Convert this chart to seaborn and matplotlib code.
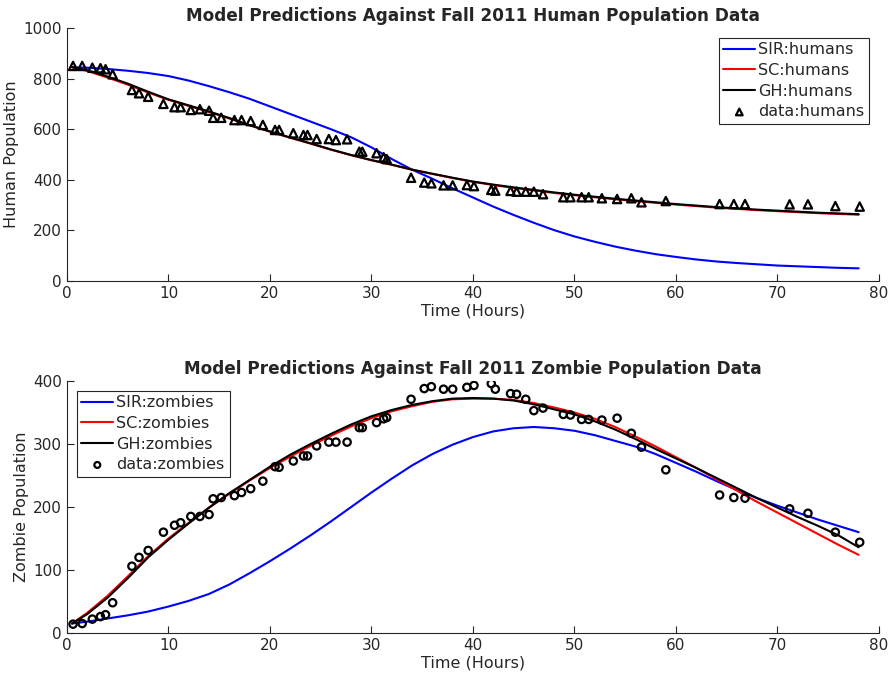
import matplotlib
matplotlib.use("Agg")
import matplotlib.pyplot as plt
import seaborn as sns

# observed time points (hours), shared by both data sets
t_data = [0.6, 1.5, 2.5, 3.3, 3.8, 4.5, 6.4, 7.1, 8.0, 9.5, 10.6, 11.2, 12.2, 13.1,
          14.0, 14.4, 15.2, 16.5, 17.2, 18.1, 19.3, 20.5, 20.9, 22.3, 23.3, 23.7,
          24.6, 25.8, 26.5, 27.6, 28.8, 29.1, 30.5, 31.2, 31.5, 33.9, 35.2, 35.9,
          37.1, 38.0, 39.4, 40.1, 41.8, 42.2, 43.7, 44.3, 45.2, 46.0, 46.9, 48.9,
          49.6, 50.7, 51.4, 52.7, 54.2, 55.6, 56.6, 59.0, 64.3, 65.7, 66.8, 71.2,
          73.0, 75.7, 78.1]

humans_data = [850, 850, 843, 841, 837, 817, 755, 742, 728, 700, 687, 687, 676, 679,
               673, 645, 645, 636, 636, 632, 617, 597, 597, 584, 577, 577, 561, 561,
               557, 560, 511, 511, 505, 489, 482, 408, 389, 386, 378, 378, 379, 375,
               360, 357, 356, 353, 353, 353, 343, 331, 331, 331, 331, 327, 324, 327,
               311, 316, 304, 304, 304, 303, 303, 296, 294]

zombies_data = [14, 15, 22, 26, 29, 48, 106, 120, 131, 160, 171, 175, 185, 185,
                188, 213, 215, 218, 223, 229, 241, 264, 263, 273, 281, 281, 297, 303,
                303, 303, 326, 326, 334, 340, 342, 371, 388, 391, 387, 387, 390, 393,
                396, 387, 380, 379, 371, 353, 357, 347, 346, 339, 339, 338, 341, 317,
                295, 259, 219, 215, 214, 197, 190, 160, 144]

# model curves
t_model = [0.5, 2, 4, 6, 8, 10, 12, 14, 16, 18, 20, 22, 24, 26, 28, 30, 32, 34, 36, 38,
           40, 42, 44, 46, 48, 50, 52, 54, 56, 58, 60, 62, 64, 66, 68, 70, 72, 74, 76, 78]

sir_humans = [845, 843, 838, 831, 822, 810, 792, 770, 746, 720, 690, 660, 630, 600,
              568, 528, 482, 440, 404, 366, 330, 294, 261, 230, 201, 176, 155, 136,
              120, 106, 95, 85, 77, 71, 66, 61, 58, 55, 52, 50]
sc_humans = [845, 830, 804, 776, 745, 716, 692, 668, 642, 615, 590, 566, 543, 519,
             497, 477, 459, 440, 423, 407, 392, 379, 368, 358, 348, 339, 331, 323,
             316, 309, 302, 296, 290, 285, 280, 276, 272, 268, 265, 262]
gh_humans = [845, 833, 808, 780, 748, 718, 694, 670, 644, 616, 591, 567, 544, 520,
             498, 478, 460, 440, 424, 408, 393, 381, 370, 360, 350, 341, 333, 325,
             318, 311, 304, 298, 292, 287, 282, 278, 274, 270, 267, 264]

sir_zombies = [15, 18, 23, 28, 34, 42, 51, 62, 77, 95, 114, 134, 155, 177, 200, 223,
               245, 266, 284, 299, 311, 320, 325, 327, 325, 321, 314, 305, 296, 284,
               270, 256, 241, 227, 214, 202, 191, 180, 170, 160]
sc_zombies = [15, 32, 59, 90, 122, 150, 175, 199, 221, 242, 262, 280, 297, 313, 328,
              341, 352, 360, 367, 371, 372, 372, 370, 365, 358, 350, 340, 327, 312,
              296, 279, 262, 244, 226, 208, 191, 174, 157, 140, 124]
gh_zombies = [15, 30, 56, 87, 120, 148, 174, 199, 222, 243, 264, 283, 300, 316, 331,
              344, 354, 362, 368, 372, 373, 372, 369, 363, 355, 347, 336, 323, 308,
              292, 277, 262, 246, 230, 214, 199, 184, 170, 155, 136]

sns.set_style("white")
plt.rcParams["font.family"] = ["DejaVu Sans"]
plt.rcParams["axes.edgecolor"] = "#262626"


def panel(ax, sir, sc, gh, data, who, marker, msize, ylim, yticks, ylabel, title, loc):
    sns.lineplot(x=t_model, y=sir, color="#0000ff", lw=1.5, label=f"SIR:{who}", ax=ax)
    sns.lineplot(x=t_model, y=sc, color="#ff0000", lw=1.5, label=f"SC:{who}", ax=ax)
    sns.lineplot(x=t_model, y=gh, color="black", lw=1.5, label=f"GH:{who}", ax=ax)
    sns.scatterplot(x=t_data, y=data, marker=marker, s=msize, fc="none", ec="black",
                    linewidth=1.6, label=f"data:{who}", ax=ax, zorder=5)

    ax.set_xlim(0, 80)
    ax.set_ylim(*ylim)
    ax.set_xticks(range(0, 81, 10))
    ax.set_yticks(yticks)
    sns.despine(ax=ax)
    ax.tick_params(axis="both", which="major", bottom=True, left=True,
                   direction="in", length=5, width=0.8, color="#262626",
                   labelcolor="#262626", labelsize=11)
    ax.set_xlabel("Time (Hours)", fontsize=11.5, color="#262626", labelpad=2)
    ax.set_ylabel(ylabel, fontsize=11.5, color="#262626", labelpad=3)
    ax.set_title(title, fontsize=12.2, fontweight="bold", pad=5)
    for sp in ["left", "bottom"]:
        ax.spines[sp].set_linewidth(0.8)

    leg = ax.legend(loc=loc, fontsize=11.5, frameon=True, fancybox=False,
                    edgecolor="#262626", framealpha=1, handlelength=2.0,
                    handletextpad=0.2, borderpad=0.3, labelspacing=0.35,
                    borderaxespad=0.6, markerscale=0.8)
    leg.get_frame().set_linewidth(0.8)


fig = plt.figure(figsize=(8.94, 6.86), dpi=100)
ax1 = fig.add_axes([0.0749, 0.5904, 0.9083, 0.3688])
ax2 = fig.add_axes([0.0749, 0.0773, 0.9083, 0.3673])

panel(ax1, sir_humans, sc_humans, gh_humans, humans_data, "humans", "^", 36,
      (0, 1000), range(0, 1001, 200), "Human Population",
      "Model Predictions Against Fall 2011 Human Population Data", "upper right")
panel(ax2, sir_zombies, sc_zombies, gh_zombies, zombies_data, "zombies", "o", 28,
      (0, 400), range(0, 401, 100), "Zombie Population",
      "Model Predictions Against Fall 2011 Zombie Population Data", "upper left")

fig.savefig("out.png", dpi=100)
